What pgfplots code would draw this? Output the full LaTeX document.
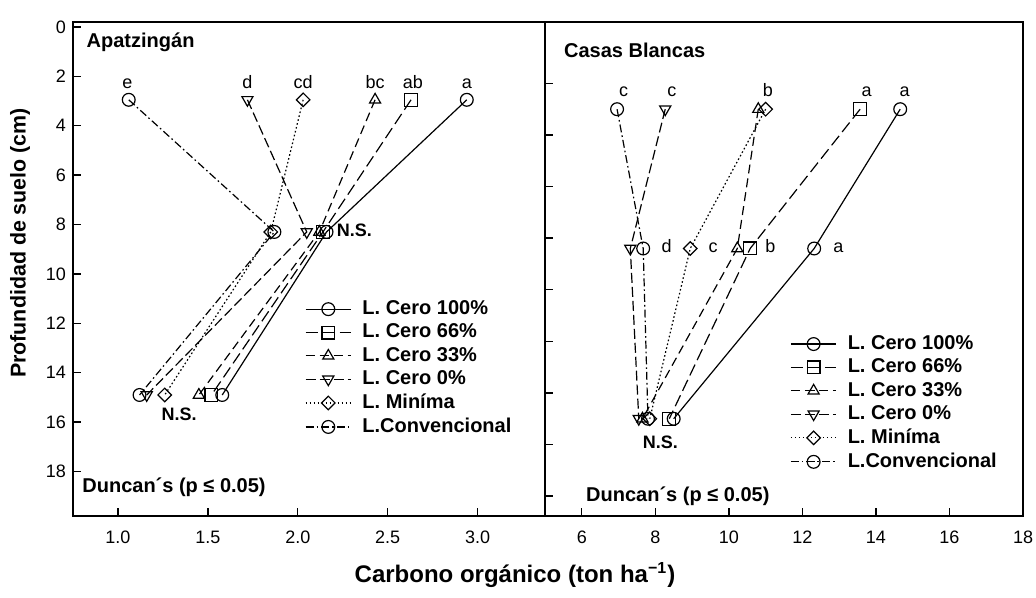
\documentclass[border=0pt]{standalone}
\usepackage{pgfplots}
\pgfplotsset{compat=1.18}
\usepackage{fontspec}
\setmainfont{Liberation Sans}
\tikzset{
  lab/.style={inner sep=0pt, font=\fontsize{9}{10}\selectfont},
  blab/.style={inner sep=0pt, font=\bfseries\fontsize{9}{10}\selectfont},
  dlab/.style={inner sep=0pt, font=\bfseries\fontsize{10}{12}\selectfont},
  tlab/.style={inner sep=0pt, font=\bfseries\fontsize{10}{12}\selectfont},
}
\begin{document}
\begin{tikzpicture}
\pgfplotsset{
  panel/.style={
    scale only axis,
    height=247pt,
    y dir=reverse,
    axis line style={line width=0.8pt},
    major tick length=4pt,
    tick style={line width=0.7pt, black},
    xtick pos=bottom, ytick pos=left,
    tick align=inside,
    ticklabel style={font=\fontsize{9}{10}\selectfont},
    /pgf/number format/assume math mode=true,
    xticklabel style={yshift=-4pt},
    clip=false,
    every axis plot/.append style={line width=0.6pt, black, mark size=3.2pt},
    legend style={draw=none, fill=none, inner sep=0pt, outer sep=0pt,
      font=\bfseries\fontsize{10}{12}\selectfont, row sep=-0.8pt,
      column sep=0pt, nodes={inner xsep=0pt}},
    legend cell align=left,
    legend image code/.code={%
      \draw[mark repeat=2,mark phase=2] plot coordinates {(0cm,0cm)(0.4cm,0cm)(0.8cm,0cm)};
      \path[draw=none] (0cm,0cm) rectangle (1.0cm,0.01cm);},
  },
  s100/.style={solid, mark=o, mark options={solid, fill=white}},
  s66/.style={dash pattern=on 6pt off 2.5pt, mark=square, mark options={solid, fill=white}},
  s33/.style={dash pattern=on 4.5pt off 2.5pt, mark=triangle, mark options={solid, fill=white}},
  s0/.style={dash pattern=on 5pt off 2pt, mark=triangle, mark options={solid, fill=white, rotate=180}},
  smin/.style={dash pattern=on 0.8pt off 1.2pt, mark=square, mark size=2.4pt, mark options={solid, fill=white, rotate=45}},
  sconv/.style={dash pattern=on 4pt off 1.5pt on 0.8pt off 1.5pt, mark=o, mark options={solid, fill=white}},
}
% ---------------- Left panel: Apatzingan ----------------
\begin{axis}[panel, at={(36.5pt,-11pt)}, anchor=north west, width=236pt,
  xmin=0.75, xmax=3.375, ymin=-0.2, ymax=19.8,
  xtick={1,1.5,2,2.5,3}, ytick={0,2,...,18},
  xticklabel style={/pgf/number format/.cd, fixed, fixed zerofill, precision=1},
  legend style={at={(axis cs:2.04,10.92)}, anchor=north west}]
\addplot[s100] coordinates {(2.94,2.95) (2.16,8.3) (1.58,14.9)};
\addlegendentry{L. Cero 100\%}
\addplot[s66] coordinates {(2.63,2.95) (2.14,8.3) (1.52,14.9)};
\addlegendentry{L. Cero 66\%}
\addplot[s33] coordinates {(2.43,2.95) (2.12,8.3) (1.45,14.9)};
\addlegendentry{L. Cero 33\%}
\addplot[s0] coordinates {(1.72,2.95) (2.05,8.3) (1.16,14.9)};
\addlegendentry{L. Cero 0\%}
\addplot[smin] coordinates {(2.03,2.95) (1.85,8.3) (1.26,14.9)};
\addlegendentry{L. Miníma}
\addplot[sconv] coordinates {(1.06,2.95) (1.87,8.3) (1.12,14.9)};
\addlegendentry{L.Convencional}
\node[tlab, anchor=west] at (axis cs:0.824,0.61) {Apatzingán};
\node[lab, anchor=base] at (axis cs:1.053,2.5) {e};
\node[lab, anchor=base] at (axis cs:1.72,2.5) {d};
\node[lab, anchor=base] at (axis cs:2.03,2.5) {cd};
\node[lab, anchor=base] at (axis cs:2.43,2.5) {bc};
\node[lab, anchor=base] at (axis cs:2.64,2.5) {ab};
\node[lab, anchor=base] at (axis cs:2.94,2.5) {a};
\node[blab, anchor=west] at (axis cs:2.215,8.25) {N.S.};
\node[blab] at (axis cs:1.34,15.7) {N.S.};
\node[dlab, anchor=west] at (axis cs:0.80,18.63) {Duncan´s (p ≤ 0.05)};
\end{axis}
% ---------------- Right panel: Casas Blancas ----------------
\begin{axis}[panel, at={(272.5pt,-11pt)}, anchor=north west, width=239pt,
  xmin=5, xmax=18, ymin=-0.38, ymax=18.77,
  xtick={6,8,...,18}, ytick={2,4,...,18}, yticklabels={},
  legend style={at={(axis cs:11.67,11.62)}, anchor=north west}]
\addplot[s100] coordinates {(14.66,3.0) (12.32,8.4) (8.5,15.0)};
\addlegendentry{L. Cero 100\%}
\addplot[s66] coordinates {(13.57,3.0) (10.58,8.4) (8.38,15.0)};
\addlegendentry{L. Cero 66\%}
\addplot[s33] coordinates {(10.8,3.0) (10.23,8.4) (7.65,15.0)};
\addlegendentry{L. Cero 33\%}
\addplot[s0] coordinates {(8.27,3.0) (7.32,8.4) (7.55,15.0)};
\addlegendentry{L. Cero 0\%}
\addplot[smin] coordinates {(11.0,3.0) (8.95,8.4) (7.85,15.0)};
\addlegendentry{L. Miníma}
\addplot[sconv] coordinates {(6.96,3.0) (7.67,8.4) (7.8,15.0)};
\addlegendentry{L.Convencional}
\node[tlab, anchor=west] at (axis cs:5.51,0.72) {Casas Blancas};
\node[lab, anchor=base] at (axis cs:7.14,2.5) {c};
\node[lab, anchor=base] at (axis cs:8.45,2.5) {c};
\node[lab, anchor=base] at (axis cs:11.06,2.5) {b};
\node[lab, anchor=base] at (axis cs:13.75,2.5) {a};
\node[lab, anchor=base] at (axis cs:14.78,2.5) {a};
\node[lab, anchor=base west] at (axis cs:8.16,8.55) {d};
\node[lab, anchor=base west] at (axis cs:9.44,8.55) {c};
\node[lab, anchor=base west] at (axis cs:10.98,8.55) {b};
\node[lab, anchor=base west] at (axis cs:12.83,8.55) {a};
\node[blab] at (axis cs:8.14,15.9) {N.S.};
\node[dlab, anchor=west] at (axis cs:6.11,17.99) {Duncan´s (p ≤ 0.05)};
\end{axis}
% ---------------- Axis titles ----------------
\node[rotate=90, inner sep=0pt, font=\bfseries\fontsize{10.7}{13}\selectfont] at (10pt,-121.5pt) {Profundidad de suelo (cm)};
\node[inner sep=0pt, font=\bfseries\fontsize{12}{14}\selectfont] at (257.5pt,-287.5pt) {Carbono orgánico (ton ha\textsuperscript{−1})};
\pgfresetboundingbox
\useasboundingbox (0,0) rectangle (518pt,-299pt);
\end{tikzpicture}
\end{document}
